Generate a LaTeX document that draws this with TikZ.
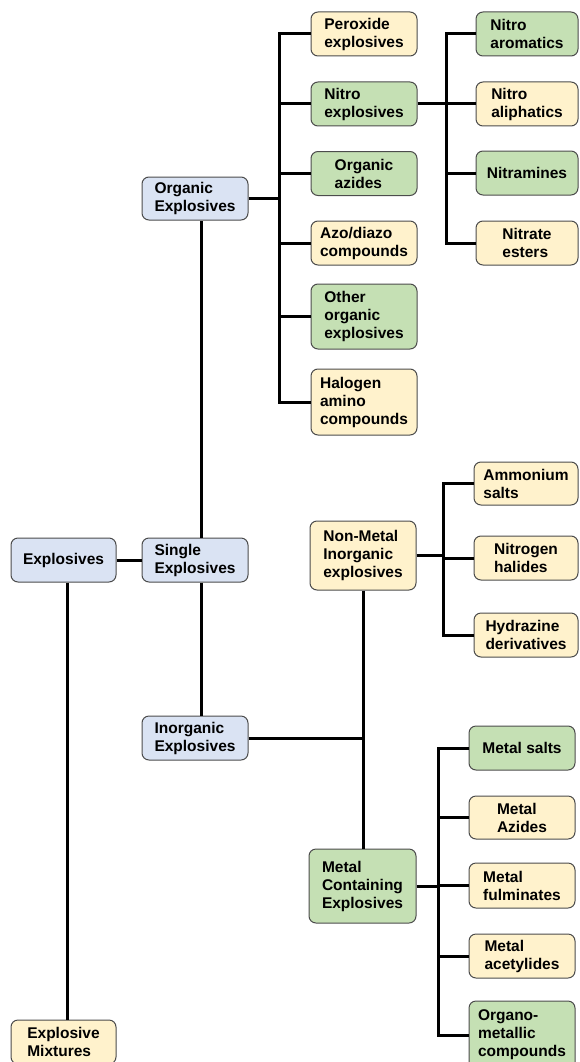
\documentclass[tikz,border=0pt]{standalone}
\usepackage{fontspec}
\setmainfont{Liberation Sans}
\usepackage{xcolor}
\usepackage{tikz}
\usetikzlibrary{positioning}

\definecolor{boxblue}{HTML}{DAE3F3}
\definecolor{boxgreen}{HTML}{C5E0B4}
\definecolor{boxyellow}{HTML}{FFF2CC}

\begin{document}
\begin{tikzpicture}[
    x=1pt, y=-1pt,
    catbox/.style={rectangle, rounded corners=7pt, draw=black!70, line width=1pt, inner sep=0pt,
        minimum width=106pt, minimum height=44pt, align=left,
        font=\fontsize{15.5}{18}\selectfont\bfseries},
    bluebox/.style={catbox, fill=boxblue},
    greenbox/.style={catbox, fill=boxgreen},
    yellowbox/.style={catbox, fill=boxyellow},
    link/.style={line width=3pt}
]
    \useasboundingbox (0,0) rectangle (579,1062);
    \clip (0,0) rectangle (579,1062);

    \node[bluebox, minimum width=105pt] (explosives) at (63.5,560) {Explosives};
    \node[bluebox] (single) at (195,560) {Single\\Explosives};
    \node[bluebox, minimum height=43pt] (organic) at (195,198.5) {Organic\\Explosives};
    \node[bluebox] (inorganic) at (195,738) {Inorganic\\Explosives};
    \node[yellowbox, minimum width=105pt] (mixtures) at (63.5,1042) {Explosive\\Mixtures};

    \node[yellowbox] (peroxide) at (364,34) {Peroxide\\explosives};
    \node[greenbox] (nitro) at (364,104) {Nitro\\explosives};
    \node[greenbox] (orgazides) at (364,173.5) {Organic\\azides};
    \node[yellowbox] (azo) at (364,243) {Azo/diazo\\compounds};
    \node[greenbox, minimum height=65pt] (other) at (364,316.5) {Other\\organic\\explosives};
    \node[yellowbox, minimum height=66pt] (halogen) at (364,402) {Halogen\\amino\\compounds};

    \node[greenbox, minimum width=102pt] (aromatics) at (527,34) {Nitro\\aromatics};
    \node[yellowbox, minimum width=102pt] (aliphatics) at (527,104) {Nitro\\aliphatics};
    \node[greenbox, minimum width=102pt] (nitramines) at (527,173) {Nitramines};
    \node[yellowbox, minimum width=102pt] (esters) at (527,243) {Nitrate\\esters};

    \node[yellowbox, minimum height=69pt] (nonmetal) at (363,555.5) {Non-Metal\\Inorganic\\explosives};
    \node[yellowbox, minimum width=104pt, minimum height=43pt] (ammonium) at (526,483.5) {Ammonium\\salts};
    \node[yellowbox, minimum width=104pt] (halides) at (526,558) {Nitrogen\\halides};
    \node[yellowbox, minimum width=104pt] (hydrazine) at (526,635) {Hydrazine\\derivatives};

    \node[greenbox, minimum width=107pt, minimum height=74pt] (metal) at (362.5,886) {Metal\\Containing\\Explosives};
    \node[greenbox] (msalts) at (522,748) {Metal salts};
    \node[yellowbox, minimum height=43pt] (mazides) at (522,817.5) {Metal\\Azides};
    \node[yellowbox, minimum height=45pt] (fulminates) at (522,885.5) {Metal\\fulminates};
    \node[yellowbox] (acetylides) at (522,956) {Metal\\acetylides};
    \node[greenbox, minimum height=68pt] (organo) at (522,1035) {Organo-\\metallic\\compounds};

    \coordinate (xspine) at (67,0);
    \coordinate (sspine) at (201,0);
    \coordinate (obus) at (279,0);
    \coordinate (nbus) at (446,0);
    \coordinate (ibus) at (443,0);
    \coordinate (mbus) at (438,0);

    \draw[link] (explosives) -- (single);
    \draw[link] (explosives.south -| xspine) -- (mixtures.north -| xspine);
    \draw[link] (single.north -| sspine) -- (organic.south -| sspine);
    \draw[link] (single.south -| sspine) -- (inorganic.north -| sspine);

    \draw[link] (organic.east) -- (organic.east -| obus);
    \draw[link] (peroxide.west) -- (peroxide.west -| obus) |- (halogen.west);
    \foreach \child in {nitro,orgazides,azo,other}
        \draw[link] (\child.west) -- (\child.west -| obus);

    \draw[link] (nitro.east) -- (nitro.east -| nbus);
    \draw[link] (aromatics.west) -- (aromatics.west -| nbus) |- (esters.west);
    \foreach \child in {aliphatics,nitramines}
        \draw[link] (\child.west) -- (\child.west -| nbus);

    \draw[link] (inorganic.east) -- (inorganic.east -| nonmetal.south);
    \draw[link] (nonmetal.south) -- (nonmetal.south |- metal.north);

    \draw[link] (nonmetal.east) -- (nonmetal.east -| ibus);
    \draw[link] (ammonium.west) -- (ammonium.west -| ibus) |- (hydrazine.west);
    \draw[link] (halides.west) -- (halides.west -| ibus);

    \draw[link] (metal.east) -- (metal.east -| mbus);
    \draw[link] (msalts.west) -- (msalts.west -| mbus) |- (organo.west);
    \foreach \child in {mazides,fulminates,acetylides}
        \draw[link] (\child.west) -- (\child.west -| mbus);
\end{tikzpicture}
\end{document}
